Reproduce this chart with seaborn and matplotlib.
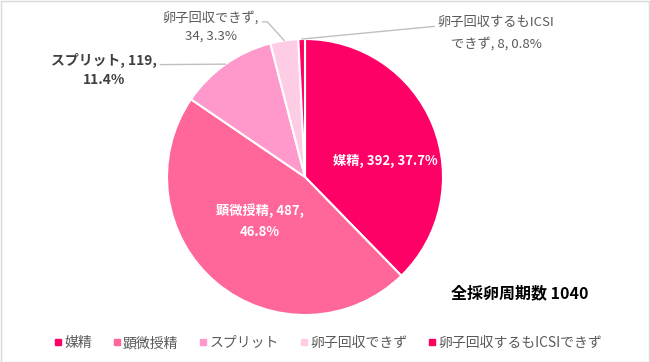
import numpy as np
import pandas as pd
import matplotlib
matplotlib.use("Agg")
import matplotlib.pyplot as plt
import seaborn as sns

# data
categories = ["媒精", "顕微授精", "スプリット", "卵子回収できず", "卵子回収するもICSIできず"]
counts = [392, 487, 119, 34, 8]
percents = [37.7, 46.8, 11.4, 3.3, 0.8]
colors = ["#FF0066", "#FF6699", "#FF99CC", "#FFCCE5", "#FF0060"]
total_label = "全採卵周期数 1040"

sns.set_theme(style="white")
plt.rcParams['font.family'] = ['Noto Sans CJK JP', 'DejaVu Sans']

W, H = 650, 362
fig = plt.figure(figsize=(W / 100, H / 100), dpi=100)
fig.patch.set_facecolor("white")

# pie placed by pixel geometry
cx, cy, r = 305, 177, 138
ax = fig.add_axes([(cx - r) / W, (H - cy - r) / H, 2 * r / W, 2 * r / H])
wedges, _ = ax.pie(counts, colors=colors, startangle=90, counterclock=False,
                   radius=1, wedgeprops=dict(edgecolor="white", linewidth=1.5))
ax.set_xlim(-1, 1)
ax.set_ylim(-1, 1)
ax.set_aspect("equal")
ax.axis("off")

def px(x, y):
    # pixel (top-left origin) -> figure fraction
    return x / W, 1 - y / H

def edge_pt(i, frac=1.0):
    w = wedges[i]
    ang = np.deg2rad((w.theta1 + w.theta2) / 2)
    return frac * np.cos(ang), frac * np.sin(ang)

fs = 9.5

# inside labels
fig.text(*px(385, 161), f"{categories[0]}, {counts[0]}, {percents[0]}%", color="white",
         fontsize=fs, fontweight="bold", ha="center", va="center")
fig.text(*px(260, 221), f"{categories[1]}, {counts[1]},\n{percents[1]}%", color="white",
         fontsize=fs, fontweight="bold", ha="center", va="center", linespacing=1.6)

# outside labels with leader lines
line_c = "#BFBFBF"
ax.annotate(f"{categories[2]}, {counts[2]},\n{percents[2]}%", xy=edge_pt(2),
            xycoords="data", xytext=px(104, 70), textcoords="figure fraction",
            ha="center", va="center", fontsize=10, fontweight="bold", color="#404040",
            linespacing=1.4,
            arrowprops=dict(arrowstyle="-", color=line_c, lw=1,
                            shrinkA=0, shrinkB=0, relpos=(1.0, 0.66)))
ax.annotate(f"{categories[3]},\n{counts[3]}, {percents[3]}%", xy=edge_pt(3),
            xycoords="data", xytext=px(211, 27), textcoords="figure fraction",
            ha="center", va="center", fontsize=fs, color="#595959", linespacing=1.5,
            arrowprops=dict(arrowstyle="-", color=line_c, lw=1,
                            shrinkA=0, shrinkB=0, relpos=(1.0, 0.66),
                            connectionstyle="angle,angleA=0,angleB=132,rad=0"))
ax.annotate("卵子回収するもICSI\nできず, 8, 0.8%", xy=edge_pt(4),
            xycoords="data", xytext=px(496, 33), textcoords="figure fraction",
            ha="center", va="center", fontsize=fs, color="#595959", linespacing=1.7,
            arrowprops=dict(arrowstyle="-", color=line_c, lw=1,
                            shrinkA=0, shrinkB=0, relpos=(0.0, 0.7)))

fig.text(*px(520, 293), total_label, fontsize=11.5, fontweight="bold", color="black",
         ha="center", va="center")

# legend
handles = [plt.Line2D([], [], marker="s", linestyle="", markersize=5,
                      markerfacecolor=c, markeredgecolor=c) for c in colors]
fig.legend(handles, categories, loc="center", bbox_to_anchor=px(328, 343),
           ncol=5, frameon=False, fontsize=10, labelcolor="#595959",
           handletextpad=0.15, columnspacing=1.5, handlelength=0.6)

# chart border
fig.add_artist(plt.Rectangle((0.5 / W, 0.5 / H), 1 - 1.5 / W, 1 - 1.5 / H,
                             transform=fig.transFigure, fill=False,
                             edgecolor="#D9D9D9", lw=1))

fig.savefig("out.png", dpi=100)
